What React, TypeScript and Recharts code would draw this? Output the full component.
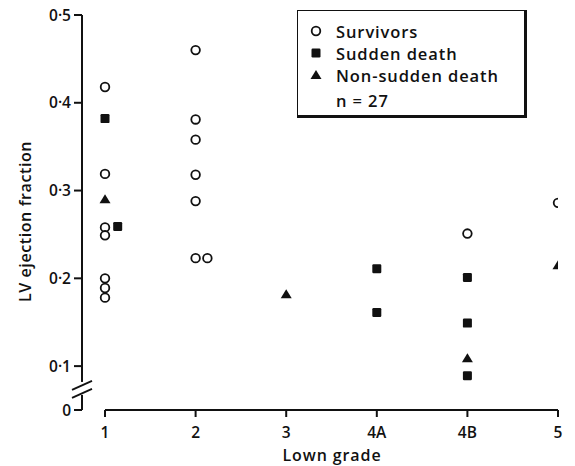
import {
  ScatterChart,
  Scatter,
  XAxis,
  YAxis,
  Legend,
  ReferenceLine,
  ReferenceDot,
  Label,
} from "recharts"

// Lown grades, placed at positions 1..6 on a numeric axis
const grades = ["1", "2", "3", "4A", "4B", "5"]
const gradeTicks = [1, 2, 3, 4, 5, 6]

// the axis is broken below 0.1, so the bottom of the domain stands for 0
const yFloor = 0.05
const yTicks = [yFloor, 0.1, 0.2, 0.3, 0.4, 0.5]

const survivors = [
  { x: 1, y: 0.418 },
  { x: 1, y: 0.319 },
  { x: 1, y: 0.258 },
  { x: 1, y: 0.249 },
  { x: 1, y: 0.2 },
  { x: 1, y: 0.189 },
  { x: 1, y: 0.178 },
  { x: 2, y: 0.46 },
  { x: 2, y: 0.381 },
  { x: 2, y: 0.358 },
  { x: 2, y: 0.318 },
  { x: 2, y: 0.288 },
  { x: 2, y: 0.223 },
  { x: 2.13, y: 0.223 },
  { x: 5, y: 0.251 },
  { x: 6, y: 0.286 },
]

const suddenDeath = [
  { x: 1, y: 0.382 },
  { x: 1.14, y: 0.259 },
  { x: 4, y: 0.211 },
  { x: 4, y: 0.161 },
  { x: 5, y: 0.201 },
  { x: 5, y: 0.149 },
  { x: 5, y: 0.089 },
]

const nonSuddenDeath = [
  { x: 1, y: 0.29 },
  { x: 3, y: 0.182 },
  { x: 5, y: 0.109 },
  { x: 6, y: 0.215 },
]

const FONT = "'Open Sans', sans-serif"
const WEIGHT = 600
const INK = "#111"

const OpenCircle = ({ cx, cy }: any) => (
  <circle cx={cx} cy={cy} r={4.3} fill="#fff" stroke={INK} strokeWidth={1.8} />
)

const FilledSquare = ({ cx, cy }: any) => (
  <rect x={cx - 4.5} y={cy - 4.5} width={9} height={9} rx={1.2} fill={INK} />
)

const FilledTriangle = ({ cx, cy }: any) => (
  <polygon
    points={`${cx},${cy - 5} ${cx + 5.5},${cy + 4} ${cx - 5.5},${cy + 4}`}
    fill={INK}
  />
)

const AxisBreak = ({ cx, cy }: any) => (
  <g>
    <rect x={cx - 3} y={cy - 7} width={6} height={13} fill="#fff" />
    <line x1={cx - 10} y1={cy + 1} x2={cx + 10} y2={cy - 8} stroke={INK} strokeWidth={1.8} />
    <line x1={cx - 10} y1={cy + 9} x2={cx + 10} y2={cy} stroke={INK} strokeWidth={1.8} />
  </g>
)

const fmtY = (v: number) => (v === yFloor ? "0" : v.toFixed(1).replace(".", "·"))

const LegendBox = () => {
  const row = { display: "flex", alignItems: "center", height: 22 }
  const mark = { width: 20, display: "flex", justifyContent: "center", marginRight: 10 }
  return (
    <div
      style={{
        width: 230,
        height: 108,
        boxSizing: "border-box" as const,
        borderStyle: "solid",
        borderColor: INK,
        borderWidth: "1.5px 3px 3px 1.5px",
        padding: "9px 0 0 8px",
        fontFamily: FONT,
        fontWeight: WEIGHT,
        fontSize: 16.5,
        letterSpacing: 0.9,
        color: INK,
        background: "#fff",
        textAlign: "left" as const,
      }}
    >
      <div style={row}>
        <span style={mark}>
          <svg width={12} height={12}>
            <OpenCircle cx={6} cy={6} />
          </svg>
        </span>
        Survivors
      </div>
      <div style={row}>
        <span style={mark}>
          <svg width={12} height={12}>
            <FilledSquare cx={6} cy={6} />
          </svg>
        </span>
        Sudden death
      </div>
      <div style={row}>
        <span style={mark}>
          <svg width={12} height={12}>
            <FilledTriangle cx={6} cy={6} />
          </svg>
        </span>
        Non-sudden death
      </div>
      <div style={{ ...row, paddingLeft: 30, height: 28 }}>n = 27</div>
    </div>
  )
}

const YTitle = ({ viewBox }: any) => {
  const x = viewBox.x + 31
  const y = viewBox.y + viewBox.height / 2 + 9
  return (
    <text
      x={x}
      y={y}
      transform={`rotate(-90 ${x} ${y})`}
      textAnchor="middle"
      fontFamily={FONT}
      fontWeight={WEIGHT}
      fontSize={16}
      letterSpacing={0.6}
      fill={INK}
    >
      LV ejection fraction
    </text>
  )
}

const XTitle = ({ viewBox }: any) => (
  <text
    x={viewBox.x + viewBox.width / 2 + 12}
    y={461}
    textAnchor="middle"
    fontFamily={FONT}
    fontWeight={WEIGHT}
    fontSize={16}
    letterSpacing={0.9}
    fill={INK}
  >
    Lown grade
  </text>
)

const App = () => {
  const tick = { fill: INK, fontSize: 15.5, fontFamily: FONT, fontWeight: WEIGHT }
  return (
    <div style={{ width: 575, height: 466, background: "#fff" }}>
      <style>{"body{margin:0}"}</style>
      <ScatterChart
        width={575}
        height={466}
        margin={{ top: 15, right: 17, bottom: 0, left: 0 }}
      >
        <XAxis
          type="number"
          dataKey="x"
          domain={[0.746, 6]}
          ticks={gradeTicks}
          tickFormatter={(v: number) => grades[v - 1]}
          axisLine={false}
          tickLine={{ stroke: INK, strokeWidth: 2 }}
          tickSize={7}
          tickMargin={10}
          height={56}
          tick={tick}
          allowDataOverflow
        >
          <Label content={<XTitle />} />
        </XAxis>
        <YAxis
          type="number"
          dataKey="y"
          domain={[yFloor, 0.5]}
          ticks={yTicks}
          tickFormatter={fmtY}
          axisLine={{ stroke: INK, strokeWidth: 2 }}
          tickLine={{ stroke: INK, strokeWidth: 2 }}
          tickSize={8}
          tickMargin={3}
          width={82}
          tick={tick}
          allowDataOverflow
        >
          <Label content={<YTitle />} />
        </YAxis>
        <ReferenceLine
          segment={[
            { x: 1, y: yFloor },
            { x: 6, y: yFloor },
          ]}
          stroke={INK}
          strokeWidth={2}
          ifOverflow="visible"
        />
        <ReferenceDot
          x={0.746}
          y={0.074}
          ifOverflow="visible"
          shape={<AxisBreak />}
        />
        <Scatter
          name="Survivors"
          data={survivors}
          shape={<OpenCircle />}
          isAnimationActive={false}
        />
        <Scatter
          name="Sudden death"
          data={suddenDeath}
          shape={<FilledSquare />}
          isAnimationActive={false}
        />
        <Scatter
          name="Non-sudden death"
          data={nonSuddenDeath}
          shape={<FilledTriangle />}
          isAnimationActive={false}
        />
        <Legend
          layout="horizontal"
          align="center"
          verticalAlign="middle"
          content={<LegendBox />}
          wrapperStyle={{ position: "absolute", left: 297, top: 10, width: "auto" }}
        />
      </ScatterChart>
    </div>
  )
}

export default App
